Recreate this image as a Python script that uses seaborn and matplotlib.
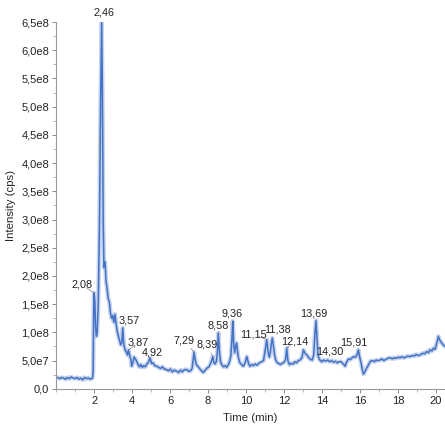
import numpy as np
import pandas as pd
import matplotlib
matplotlib.use("Agg")
import matplotlib.pyplot as plt
from matplotlib.ticker import MultipleLocator, FixedLocator, FixedFormatter
import seaborn as sns

# chromatogram trace (intensity in units of 1e7 cps)
time_min = [
    0.00, 0.10, 0.20, 0.30, 0.40, 0.50, 0.60, 0.70, 0.80, 0.90,
    1.00, 1.10, 1.20, 1.30, 1.40, 1.50, 1.60, 1.70, 1.80, 1.92,
    1.95, 1.98, 2.00, 2.04, 2.08, 2.12, 2.16, 2.22, 2.28, 2.34,
    2.40, 2.44, 2.48, 2.52, 2.58, 2.63, 2.68, 2.74, 2.80, 2.86,
    2.92, 2.98, 3.04, 3.10, 3.16, 3.22, 3.28, 3.34, 3.40, 3.46,
    3.51, 3.56, 3.63, 3.70, 3.76, 3.81, 3.88, 3.94, 3.98, 4.04,
    4.10, 4.16, 4.22, 4.30, 4.38, 4.46, 4.54, 4.62, 4.70, 4.78,
    4.86, 4.95, 5.02, 5.10, 5.20, 5.30, 5.40, 5.50, 5.60, 5.70,
    5.82, 5.92, 6.02, 6.12, 6.22, 6.35, 6.45, 6.55, 6.65, 6.75,
    6.88, 6.98, 7.08, 7.16, 7.26, 7.32, 7.38, 7.45, 7.55, 7.65,
    7.75, 7.85, 7.95, 8.05, 8.13, 8.19, 8.25, 8.31, 8.37, 8.44,
    8.49, 8.54, 8.60, 8.66, 8.72, 8.80, 8.90, 8.98, 9.10, 9.20,
    9.26, 9.30, 9.35, 9.40, 9.45, 9.50, 9.57, 9.66, 9.76, 9.86,
    9.95, 10.04, 10.12, 10.20, 10.30, 10.40, 10.47, 10.58, 10.70, 10.82,
    10.92, 11.00, 11.05, 11.09, 11.15, 11.22, 11.28, 11.33, 11.38, 11.44,
    11.50, 11.56, 11.64, 11.72, 11.80, 11.90, 12.00, 12.08, 12.14, 12.20,
    12.28, 12.38, 12.48, 12.57, 12.66, 12.75, 12.84, 12.94, 13.02, 13.10,
    13.20, 13.30, 13.40, 13.48, 13.56, 13.62, 13.68, 13.73, 13.78, 13.86,
    13.98, 14.08, 14.18, 14.30, 14.40, 14.50, 14.60, 14.70, 14.80, 14.90,
    15.00, 15.08, 15.15, 15.21, 15.30, 15.39, 15.50, 15.58, 15.66, 15.75,
    15.84, 15.91, 15.98, 16.05, 16.12, 16.18, 16.25, 16.35, 16.45, 16.55,
    16.65, 16.75, 16.85, 16.95, 17.05, 17.15, 17.25, 17.35, 17.45, 17.58,
    17.70, 17.80, 17.90, 18.00, 18.10, 18.20, 18.30, 18.40, 18.50, 18.63,
    18.75, 18.85, 18.95, 19.05, 19.16, 19.28, 19.40, 19.50, 19.60, 19.68,
    19.78, 19.86, 19.95, 20.05, 20.12, 20.20, 20.30, 20.40, 20.47,
]
intensity_e7 = [
    1.9, 2.0, 1.8, 2.0, 1.9, 1.7, 2.0, 1.8, 2.1, 1.9,
    1.8, 2.0, 1.7, 1.9, 1.6, 2.0, 1.8, 1.9, 1.7, 1.9,
    3.0, 14.0, 17.0, 15.5, 11.0, 9.3, 9.8, 15.0, 28.0, 50.0,
    65.0, 52.0, 30.0, 21.5, 22.5, 19.0, 18.0, 16.0, 15.5, 13.5,
    12.5, 13.0, 11.8, 13.2, 11.5, 10.2, 9.3, 8.6, 7.8, 8.2,
    10.8, 8.0, 6.9, 6.5, 6.0, 6.9, 5.8, 5.2, 4.0, 4.6,
    5.6, 5.4, 5.0, 4.4, 3.9, 4.3, 3.8, 4.1, 3.9, 4.4,
    4.7, 5.5, 4.5, 4.6, 4.1, 4.0, 3.8, 3.6, 3.9, 3.5,
    3.4, 3.2, 3.5, 3.0, 3.3, 3.1, 2.9, 3.3, 3.0, 3.4,
    3.4, 3.1, 3.2, 3.6, 6.5, 5.2, 4.3, 4.0, 3.6, 3.2,
    2.9, 3.3, 3.7, 3.9, 4.5, 5.0, 5.7, 4.6, 4.4, 4.9,
    6.5, 9.9, 6.5, 4.8, 4.3, 3.9, 4.1, 3.8, 4.5, 5.8,
    9.0, 12.0, 8.0, 6.4, 7.5, 8.1, 6.0, 4.7, 4.3, 4.0,
    4.6, 5.7, 4.6, 4.0, 4.3, 4.1, 4.4, 4.2, 4.6, 4.8,
    5.0, 6.8, 8.0, 8.7, 6.8, 5.6, 6.5, 8.0, 9.0, 7.6,
    6.0, 5.1, 4.6, 4.5, 4.3, 4.5, 4.7, 5.2, 7.2, 5.0,
    4.3, 4.5, 4.4, 4.8, 4.6, 5.0, 5.1, 5.5, 6.9, 6.3,
    6.0, 5.5, 5.2, 5.1, 6.0, 9.5, 12.1, 9.0, 6.0, 5.2,
    4.8, 5.1, 4.9, 5.1, 4.8, 5.0, 4.7, 4.9, 4.6, 4.8,
    4.8, 4.5, 4.3, 4.0, 4.8, 5.3, 5.2, 5.5, 5.7, 5.6,
    6.0, 6.9, 5.6, 4.6, 3.4, 2.6, 3.0, 3.7, 4.3, 4.9,
    5.0, 4.8, 5.1, 5.0, 5.1, 5.3, 5.0, 5.2, 5.4, 5.5,
    5.3, 5.5, 5.4, 5.6, 5.5, 5.7, 5.5, 5.6, 5.8, 5.7,
    5.9, 5.8, 6.1, 5.9, 6.0, 6.3, 6.2, 6.6, 6.4, 6.9,
    6.7, 7.2, 7.0, 8.3, 9.3, 8.6, 8.1, 7.7, 7.5,
]

# peak labels, retention time and apex height (1e7 cps)
peak_labels = ["2,46", "2,08", "3,57", "3,87", "4,92", "7,29", "8,39", "8,58",
               "9,36", "11,15", "11,38", "12,14", "13,69", "14,30", "15,91"]
peak_times = [2.40, 2.00, 3.51, 3.81, 4.95, 7.26, 8.25, 8.54,
              9.30, 11.09, 11.38, 12.14, 13.68, 14.30, 15.91]
peak_heights = [65.0, 17.0, 10.8, 6.9, 5.5, 6.5, 5.7, 9.9,
                12.0, 8.7, 9.0, 7.2, 12.1, 5.1, 6.9]

y_ticks = [0, 0.5e8, 1.0e8, 1.5e8, 2.0e8, 2.5e8, 3.0e8, 3.5e8, 4.0e8,
           4.5e8, 5.0e8, 5.5e8, 6.0e8, 6.5e8]
y_tick_labels = ["0,0", "5,0e7", "1,0e8", "1,5e8", "2,0e8", "2,5e8", "3,0e8",
                 "3,5e8", "4,0e8", "4,5e8", "5,0e8", "5,5e8", "6,0e8", "6,5e8"]

# label placement (pixels from the apex) and whether a leader line is drawn
label_offsets = [(2, 10), (-12, 8), (6, 7), (10, 7), (2, 5), (-10, 12), (-6, 12),
                 (0, 7), (-1, 8), (-13, 5), (5, 9), (8, 7), (-2, 7), (2, 9), (-5, 7)]
leaders = [False, True, False, True, False, True, True, False,
           False, True, False, True, False, False, False]

df = pd.DataFrame({"Time": time_min, "Intensity": np.array(intensity_e7) * 1e7})

sns.set_style("ticks")
plt.rcParams["font.family"] = ["Liberation Sans", "DejaVu Sans"]

fig = plt.figure(figsize=(4.45, 4.24), dpi=100)
ax = fig.add_axes([0.126, 0.083, 0.874, 0.865])

line_color = "#4472c4"
sns.lineplot(data=df, x="Time", y="Intensity", ax=ax, color=line_color,
             lw=3.2, alpha=0.3)
sns.lineplot(data=df, x="Time", y="Intensity", ax=ax, color=line_color, lw=1.1)

for lab, t, h, off, lead in zip(peak_labels, peak_times, peak_heights,
                                 label_offsets, leaders):
    arrow = dict(arrowstyle="-", color="#888888", lw=0.5,
                 shrinkA=4, shrinkB=0) if lead else None
    ax.annotate(lab, xy=(t, h * 1e7), xytext=off, textcoords="offset pixels",
                ha="center", va="center", fontsize=7.8, color="#222222",
                arrowprops=arrow, annotation_clip=False)

ax.set_xlim(0, 20.47)
ax.set_ylim(0, 6.5e8)
ax.xaxis.set_major_locator(FixedLocator([2, 4, 6, 8, 10, 12, 14, 16, 18, 20]))
ax.xaxis.set_minor_locator(MultipleLocator(1))
ax.yaxis.set_major_locator(FixedLocator(y_ticks))
ax.yaxis.set_major_formatter(FixedFormatter(y_tick_labels))
ax.yaxis.set_minor_locator(MultipleLocator(0.25e8))

ax.set_xlabel("Time (min)", fontsize=8.2, labelpad=5)
ax.set_ylabel("Intensity (cps)", fontsize=8.2, labelpad=4)

sns.despine(ax=ax)
for s in ["left", "bottom"]:
    ax.spines[s].set_color("#999999")
    ax.spines[s].set_linewidth(0.8)
ax.tick_params(axis="both", which="major", labelsize=8, length=3,
               width=0.6, color="#777777", pad=2, labelcolor="#222222")
ax.tick_params(axis="both", which="minor", length=2, width=0.5, color="#999999")

fig.savefig("out.png", dpi=100)
